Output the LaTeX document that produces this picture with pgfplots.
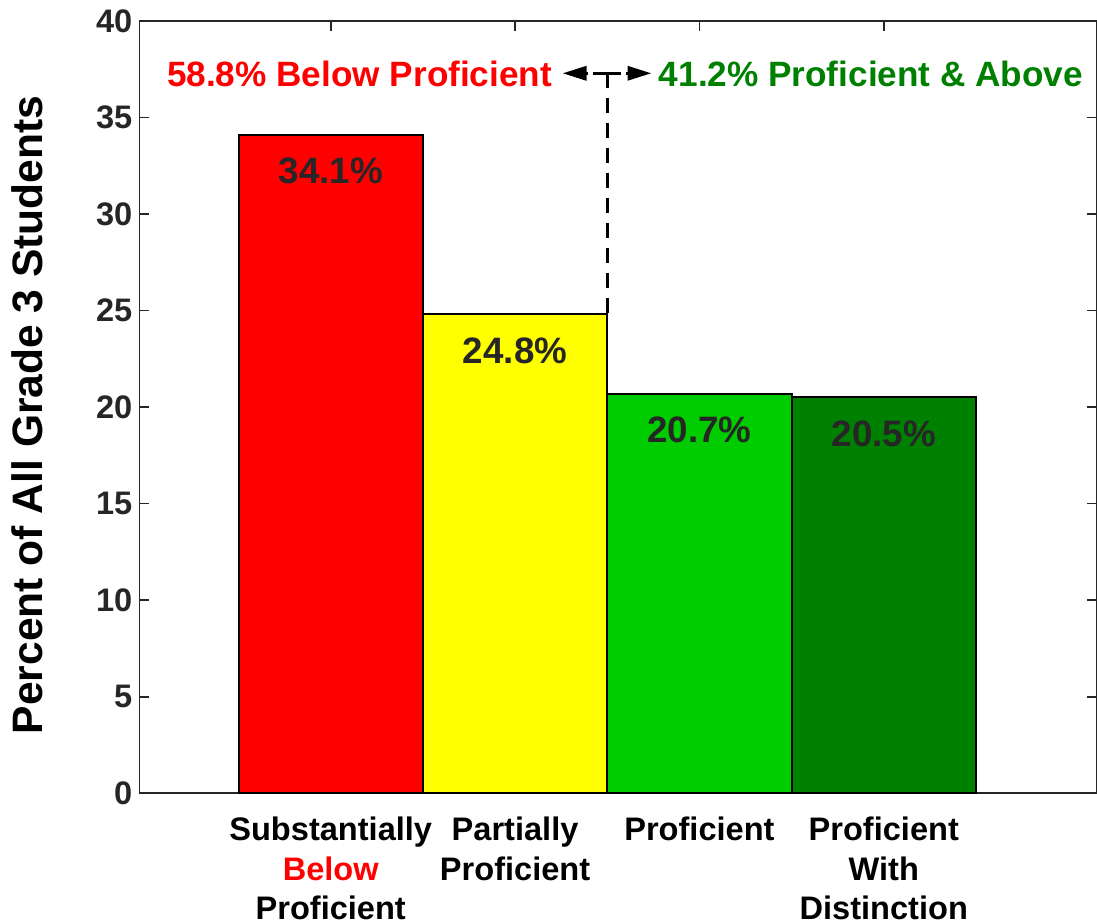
\documentclass[border=0pt]{standalone}
\usepackage{pgfplots}
\pgfplotsset{compat=1.18}
\usepackage{fontspec}
\setmainfont{Liberation Sans}
\usetikzlibrary{arrows.meta}
\definecolor{axgray}{rgb}{0.15,0.15,0.15}
\definecolor{lblgray}{rgb}{0.15,0.15,0.15}
\definecolor{barred}{rgb}{1,0,0}
\definecolor{baryellow}{rgb}{1,1,0}
\definecolor{bargreen}{rgb}{0,0.8,0}
\definecolor{bardkgreen}{rgb}{0,0.5,0}
\definecolor{txtgreen}{rgb}{0,0.5,0}
\begin{document}
\begin{tikzpicture}
\begin{axis}[
  scale only axis,
  width=479pt, height=386.5pt,
  xmin=-0.038, xmax=5.154,
  ymin=0, ymax=40,
  xtick={1,2,3,4},
  xticklabels={Substantially\\\textcolor{red}{Below}\\Proficient, Partially\\Proficient, Proficient, Proficient\\With\\Distinction},
  ytick={0,5,10,15,20,25,30,35,40},
  tick align=inside,
  major tick length=5pt,
  tick style={axgray, line width=0.8pt},
  axis line style={axgray, line width=0.8pt},
  /pgf/number format/assume math mode=true,
  ticklabel style={font=\fontsize{16.3}{19.6}\selectfont\bfseries},
  yticklabel style={text=lblgray},
  xticklabel style={align=center, text=black, yshift=-8.5pt},
  ylabel={Percent of All Grade 3 Students},
  ylabel style={at={(axis description cs:-0.1174,0.49)}, anchor=center, font=\fontsize{21.3}{25}\selectfont\bfseries, text=black},
  nodes near coords={\pgfmathprintnumber[fixed,precision=1,fixed zerofill]{\pgfplotspointmeta}\%},
  every node near coord/.append style={anchor=base, yshift=-24.5pt, font=\fontsize{18.4}{22}\selectfont\bfseries, text=lblgray},
]
\addplot[ybar, bar width=1, bar shift=0pt, fill=barred, draw=black, line width=1pt] coordinates {(1,34.1)};
\addplot[ybar, bar width=1, bar shift=0pt, fill=baryellow, draw=black, line width=1pt] coordinates {(2,24.8)};
\addplot[ybar, bar width=1, bar shift=0pt, fill=bargreen, draw=black, line width=1pt] coordinates {(3,20.7)};
\addplot[ybar, bar width=1, bar shift=0pt, fill=bardkgreen, draw=black, line width=1pt] coordinates {(4,20.5)};
% annotation
\draw[black, line width=1.7pt, dash pattern=on 7.5pt off 5pt] (axis cs:2.5,37.29) -- (axis cs:2.5,24.8);
\draw[black, line width=1.7pt] (axis cs:2.420,37.29) -- (axis cs:2.577,37.29);
\draw[black, line width=1.7pt, -{Triangle[length=12pt,width=7pt]}] (axis cs:2.398,37.29) -- (axis cs:2.2575,37.29);
\draw[black, line width=1.7pt, -{Triangle[length=12pt,width=7pt]}] (axis cs:2.599,37.29) -- (axis cs:2.740,37.29);
\node[anchor=base east, inner sep=0pt, text=red, font=\fontsize{17.6}{21}\selectfont\bfseries] at (axis cs:2.203,36.58) {58.8\% Below Proficient};
\node[anchor=base west, inner sep=0pt, text=txtgreen, font=\fontsize{17.6}{21}\selectfont\bfseries] at (axis cs:2.778,36.58) {41.2\% Proficient \& Above};
\end{axis}
\pgfresetboundingbox
\path (-69.75pt,-65pt) rectangle (479.25pt,397pt);
\end{tikzpicture}
\end{document}
